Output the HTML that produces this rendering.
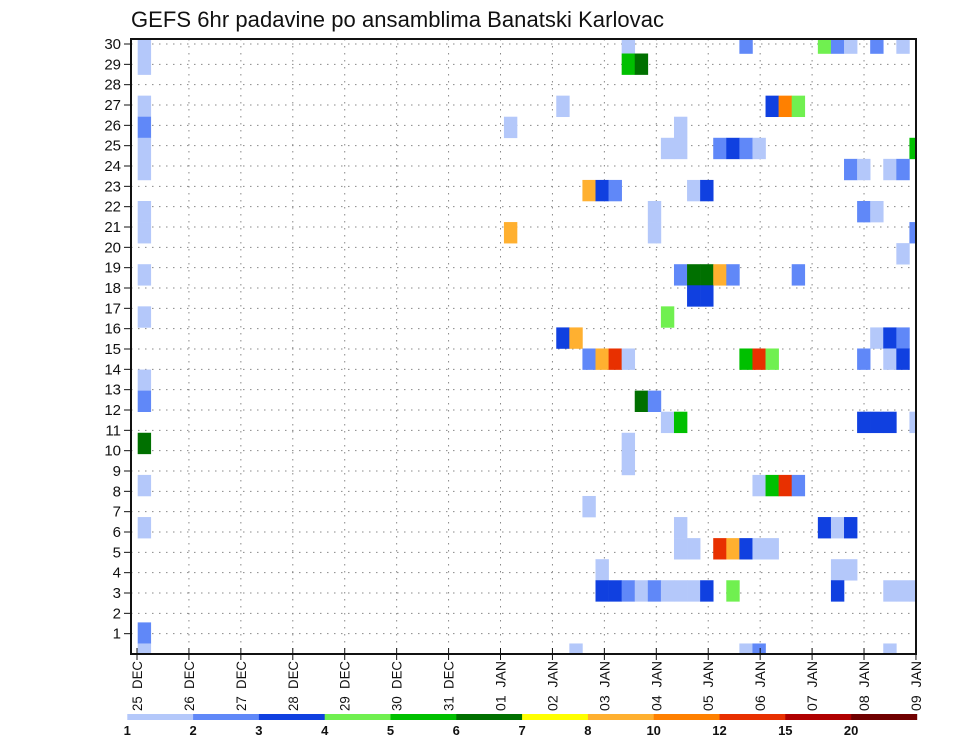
<!DOCTYPE html>
<html><head><meta charset="utf-8"><style>
html,body{margin:0;padding:0;background:#fff;}
svg{display:block;font-family:"Liberation Sans","DejaVu Sans",sans-serif;}
</style></head><body>
<svg id="chart" width="960" height="742" viewBox="0 0 960 742">
<defs><clipPath id="plotClip"><rect x="131" y="39" width="785" height="615"/></clipPath></defs>
<text x="131" y="27" font-size="22" fill="#111" textLength="533">GEFS 6hr padavine po ansamblima Banatski Karlovac</text>
<g id="grid"></g>
<g id="cells" clip-path="url(#plotClip)"></g>
<rect x="131" y="39" width="785" height="615" fill="none" stroke="#111" stroke-width="2"/>
<g id="axes"></g>
<g id="colorbar"></g>
</svg>
<script>
// data: [member, 6h step, precip mm]
const precipCells = [
[29,0,1.5],[29,37,1.5],[29,46,2.5],[29,52,4.5],[29,53,2.5],[29,54,1.5],[29,56,2.5],[29,58,1.5],
[28,0,1.5],[28,37,5.5],[28,38,6.5],
[26,0,1.5],[26,32,1.5],[26,48,3.5],[26,49,11],[26,50,4.5],
[25,0,2.5],[25,28,1.5],[25,41,1.5],
[24,0,1.5],[24,40,1.5],[24,41,1.5],[24,44,2.5],[24,45,3.5],[24,46,2.5],[24,47,1.5],[24,59,5.5],
[23,0,1.5],[23,54,2.5],[23,55,1.5],[23,57,1.5],[23,58,2.5],
[22,34,9],[22,35,3.5],[22,36,2.5],[22,42,1.5],[22,43,3.5],
[21,0,1.5],[21,39,1.5],[21,55,2.5],[21,56,1.5],
[20,0,1.5],[20,28,9],[20,39,1.5],[20,59,2.5],
[19,58,1.5],
[18,0,1.5],[18,41,2.5],[18,42,6.5],[18,43,6.5],[18,44,9],[18,45,2.5],[18,50,2.5],
[17,42,3.5],[17,43,3.5],
[16,0,1.5],[16,40,4.5],
[15,32,3.5],[15,33,9],[15,56,1.5],[15,57,3.5],[15,58,2.5],
[14,34,2.5],[14,35,9],[14,36,13],[14,37,1.5],[14,46,5.5],[14,47,13],[14,48,4.5],[14,55,2.5],[14,57,1.5],[14,58,3.5],
[13,0,1.5],
[12,0,2.5],[12,38,6.5],[12,39,2.5],
[11,40,1.5],[11,41,5.5],[11,55,3.5],[11,56,3.5],[11,57,3.5],[11,59,1.5],
[10,0,6.5],[10,37,1.5],
[9,37,1.5],
[8,0,1.5],[8,47,1.5],[8,48,5.5],[8,49,13],[8,50,2.5],
[7,34,1.5],
[6,0,1.5],[6,41,1.5],[6,52,3.5],[6,53,1.5],[6,54,3.5],
[5,41,1.5],[5,42,1.5],[5,44,13],[5,45,9],[5,46,3.5],[5,47,1.5],[5,48,1.5],
[4,35,1.5],[4,53,1.5],[4,54,1.5],
[3,35,3.5],[3,36,3.5],[3,37,2.5],[3,38,1.5],[3,39,2.5],[3,40,1.5],[3,41,1.5],[3,42,1.5],[3,43,3.5],[3,45,4.5],[3,53,3.5],[3,57,1.5],[3,58,1.5],[3,59,1.5],
[1,0,2.5],
[0,0,1.5],[0,33,1.5],[0,46,1.5],[0,47,2.5],[0,57,1.5]
];
const levels = [1,2,3,4,5,6,7,8,10,12,15,20];
const levelColors = ["#b4c8fa","#6088f8","#1040e0","#70f050","#00c000","#007000","#ffff00","#ffb030","#ff8000","#e83000","#b00000","#700000"];
const dayLabels = ["25","26","27","28","29","30","31","01","02","03","04","05","06","07","08","09"];
const monthLabels = ["DEC","DEC","DEC","DEC","DEC","DEC","DEC","JAN","JAN","JAN","JAN","JAN","JAN","JAN","JAN","JAN"];
const yTicks = [1,2,3,4,5,6,7,8,9,10,11,12,13,14,15,16,17,18,19,20,21,22,23,24,25,26,27,28,29,30];

const NS="http://www.w3.org/2000/svg";
function mk(tag,attrs,parent){const e=document.createElementNS(NS,tag);for(const k in attrs)e.setAttribute(k,attrs[k]);parent.appendChild(e);return e;}
const stepX = k => 137.7 + 13.08*k;
const stepW = 13.08;
const memberY = j => 654 - 21.07*j;
const memberH = 21.07;
const dayX = d => 137 + 51.93*d;
const tickY = v => 654 - 20.333*v;
function colorFor(v){let c=null;for(let i=0;i<levels.length;i++){if(v>=levels[i])c=levelColors[i];}return c;}

const grid=document.getElementById('grid');
yTicks.forEach(v=>{
  const l=mk('line',{x1:131,x2:916,y1:tickY(v),y2:tickY(v),stroke:'#888','stroke-width':1,'stroke-dasharray':'1.5,5.5'},grid);
  
  
});
dayLabels.forEach((d,i)=>{
  if(i===0||i===dayLabels.length-1) return;
  const l=mk('line',{x1:dayX(i),x2:dayX(i),y1:39,y2:654,stroke:'#888','stroke-width':1,'stroke-dasharray':'1.5,5.5'},grid);
  
  
});

const cellsG=document.getElementById('cells');
precipCells.forEach(c=>{
  const [j,k,v]=c;
  const col=colorFor(v); if(!col) return;
  const r=mk('rect',{x:stepX(k),y:memberY(j)-memberH/2,width:stepW+0.3,height:memberH+0.3,fill:col},cellsG);
  
  
});

const axes=document.getElementById('axes');
yTicks.forEach(v=>{
  mk('line',{x1:124,x2:131,y1:tickY(v),y2:tickY(v),stroke:'#111','stroke-width':1},axes);
  const t=mk('text',{x:121,y:tickY(v)+5,'text-anchor':'end','font-size':15,fill:'#111'},axes);
  t.textContent=v;
  
  
});
dayLabels.forEach((d,i)=>{
  const x=dayX(i);
  mk('line',{x1:x,x2:x,y1:648,y2:660,stroke:'#111','stroke-width':1},axes);
  const t=mk('text',{x:0,y:0,'text-anchor':'end','font-size':14,fill:'#111',textLength:50,lengthAdjust:'spacingAndGlyphs',transform:`translate(${x+5},661) rotate(-90)`},axes);
  t.textContent=d+'\u00a0\u00a0'+monthLabels[i];
  
  
});

const cb=document.getElementById('colorbar');
const cbX0=127.3, cbW=65.8;
levelColors.forEach((c,i)=>{
  const r=mk('rect',{x:cbX0+cbW*i,y:714,width:cbW+0.3,height:6,fill:c},cb);
  
  
});
levels.forEach((lv,i)=>{
  const t=mk('text',{x:cbX0+cbW*i,y:735,'text-anchor':'middle','font-size':13,'font-weight':'bold',fill:'#111'},cb);
  t.textContent=lv;
  
  
});
</script>
</body></html>
